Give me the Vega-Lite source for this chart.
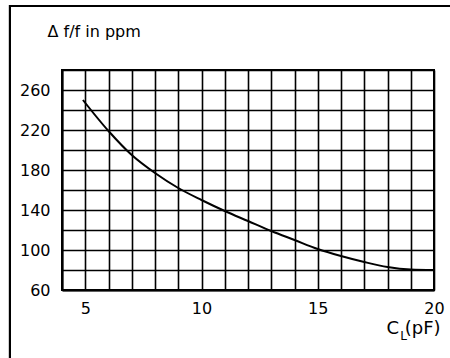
{
  "$schema": "https://vega.github.io/schema/vega-lite/v6.json",
  "width": 372,
  "height": 220,
  "autosize": "none",
  "padding": {"left": 62, "top": 70, "right": 16, "bottom": 68},
  "background": "white",
  "config": {
    "view": {"stroke": "black", "strokeWidth": 2},
    "font": "DejaVu Sans"
  },
  "title": {
    "text": "L",
    "orient": "bottom",
    "anchor": "end",
    "frame": "group",
    "font": "DejaVu Sans",
    "fontSize": 12,
    "fontWeight": "normal",
    "color": "black",
    "dx": -27,
    "dy": -40,
    "offset": 0
  },
  "data": {
    "values": [
      {"CL": 4.9, "df": 250},
      {"CL": 6, "df": 219},
      {"CL": 7, "df": 195},
      {"CL": 8, "df": 177},
      {"CL": 9, "df": 162},
      {"CL": 10, "df": 150},
      {"CL": 11, "df": 139},
      {"CL": 12, "df": 129},
      {"CL": 13, "df": 119},
      {"CL": 14, "df": 110},
      {"CL": 15, "df": 101},
      {"CL": 16, "df": 94},
      {"CL": 17, "df": 88},
      {"CL": 18, "df": 83},
      {"CL": 19, "df": 80.5},
      {"CL": 20, "df": 80}
    ]
  },
  "layer": [
    {
      "mark": {"type": "line", "color": "black", "strokeWidth": 2, "interpolate": "monotone"},
      "encoding": {
        "x": {
          "field": "CL",
          "type": "quantitative",
          "scale": {"domain": [4, 20], "nice": false, "zero": false},
          "axis": {
            "values": [4, 5, 6, 7, 8, 9, 10, 11, 12, 13, 14, 15, 16, 17, 18, 19, 20],
            "labelExpr": "datum.value % 5 == 0 ? datum.label : ''",
            "grid": true, "gridColor": "black", "gridWidth": 1.6, "gridOpacity": 1,
            "ticks": false, "tickSize": 0,
            "domainColor": "black", "domainWidth": 2,
            "labelFont": "DejaVu Sans", "labelFontSize": 16, "labelColor": "black",
            "labelPadding": 10, "labelBaseline": "top", "labelFlush": false, "labelOverlap": false,
            "title": "C   (pF)",
            "titleFont": "DejaVu Sans", "titleFontSize": 18, "titleFontWeight": "normal", "titleColor": "black",
            "titleAlign": "left", "titleBaseline": "alphabetic", "titleX": 324, "titleY": 43
          }
        },
        "y": {
          "field": "df",
          "type": "quantitative",
          "scale": {"domain": [60, 280], "nice": false, "zero": false},
          "axis": {
            "values": [60, 80, 100, 120, 140, 160, 180, 200, 220, 240, 260, 280],
            "labelExpr": "(datum.value - 60) % 40 == 0 && datum.value < 280 ? datum.label : ''",
            "grid": true, "gridColor": "black", "gridWidth": 1.6, "gridOpacity": 1,
            "ticks": false, "tickSize": 0,
            "domainColor": "black", "domainWidth": 2,
            "labelFont": "DejaVu Sans", "labelFontSize": 16, "labelColor": "black",
            "labelPadding": 12, "labelBaseline": "middle", "labelFlush": false, "labelOverlap": false,
            "title": "Δ f/f in ppm",
            "titleFont": "DejaVu Sans", "titleFontSize": 16, "titleFontWeight": "normal", "titleColor": "black",
            "titleAngle": 0, "titleAlign": "left", "titleBaseline": "alphabetic", "titleX": -15, "titleY": -34
          }
        }
      }
    },
    {
      "mark": {"type": "rect", "filled": false, "color": "black", "strokeWidth": 2, "clip": false},
      "encoding": {
        "x": {
          "datum": 1.763,
          "axis": {
            "values": [4, 5, 6, 7, 8, 9, 10, 11, 12, 13, 14, 15, 16, 17, 18, 19, 20],
            "labelExpr": "datum.value % 5 == 0 ? datum.label : ''",
            "grid": true, "gridColor": "black", "gridWidth": 1.6, "gridOpacity": 1,
            "ticks": false, "tickSize": 0,
            "domainColor": "black", "domainWidth": 2,
            "labelFont": "DejaVu Sans", "labelFontSize": 16, "labelColor": "black",
            "labelPadding": 10, "labelBaseline": "top", "labelFlush": false, "labelOverlap": false,
            "title": "C   (pF)",
            "titleFont": "DejaVu Sans", "titleFontSize": 18, "titleFontWeight": "normal", "titleColor": "black",
            "titleAlign": "left", "titleBaseline": "alphabetic", "titleX": 324, "titleY": 43
          }
        },
        "x2": {"datum": 25},
        "y": {
          "datum": 344,
          "axis": {
            "values": [60, 80, 100, 120, 140, 160, 180, 200, 220, 240, 260, 280],
            "labelExpr": "(datum.value - 60) % 40 == 0 && datum.value < 280 ? datum.label : ''",
            "grid": true, "gridColor": "black", "gridWidth": 1.6, "gridOpacity": 1,
            "ticks": false, "tickSize": 0,
            "domainColor": "black", "domainWidth": 2,
            "labelFont": "DejaVu Sans", "labelFontSize": 16, "labelColor": "black",
            "labelPadding": 12, "labelBaseline": "middle", "labelFlush": false, "labelOverlap": false,
            "title": "Δ f/f in ppm",
            "titleFont": "DejaVu Sans", "titleFontSize": 16, "titleFontWeight": "normal", "titleColor": "black",
            "titleAngle": 0, "titleAlign": "left", "titleBaseline": "alphabetic", "titleX": -15, "titleY": -34
          }
        },
        "y2": {"datum": -20}
      }
    }
  ]
}
